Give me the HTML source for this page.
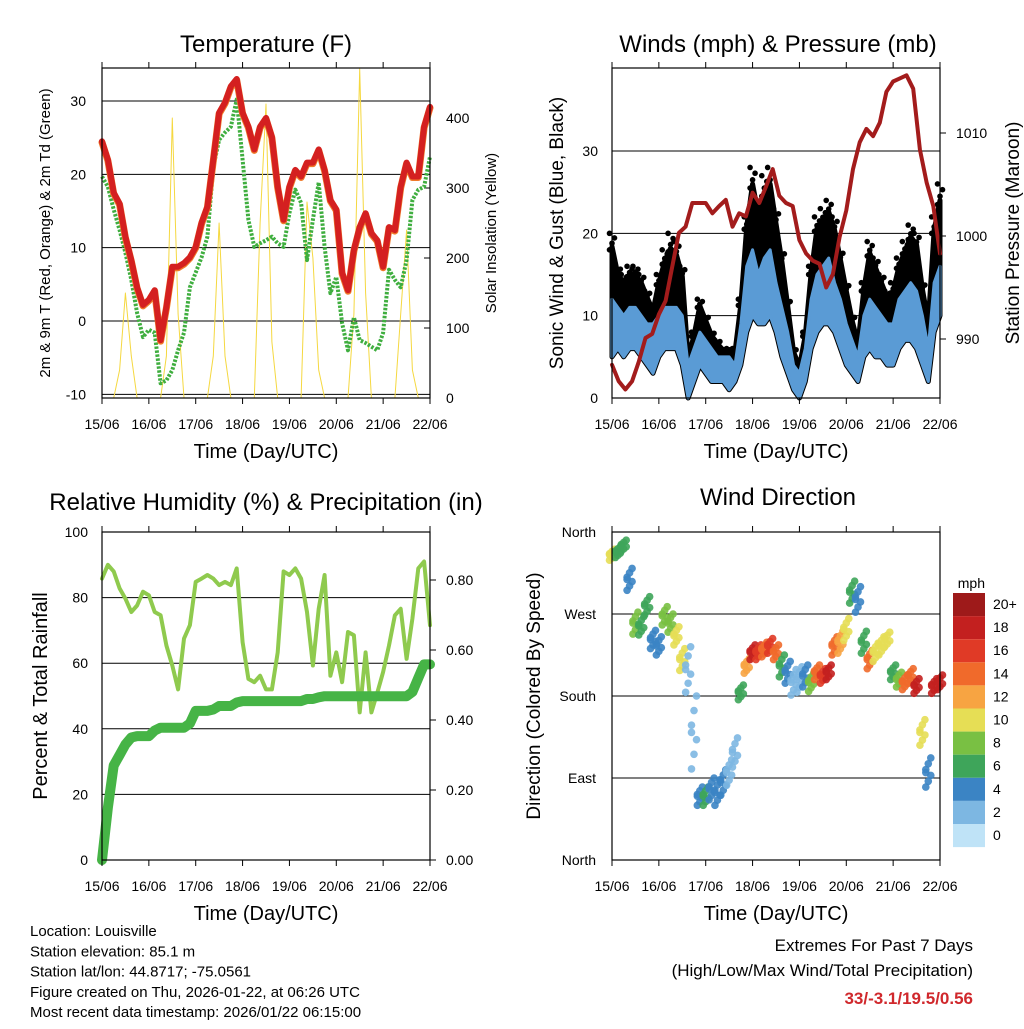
<!DOCTYPE html>
<html><head><meta charset="utf-8"><style>
body{margin:0;background:#fff;width:1024px;height:1024px;overflow:hidden;font-family:"Liberation Sans",sans-serif}
svg text{font-family:"Liberation Sans",sans-serif}
</style></head><body>
<svg id="c" width="1024" height="1024" xmlns="http://www.w3.org/2000/svg"></svg>
<script>
const days=["15/06","16/06","17/06","18/06","19/06","20/06","21/06","22/06"];
const tempRed=[24.5,22,17.5,16,11.5,8.3,4.6,2.2,2.9,4.2,-2.6,1.9,7.4,7.4,7.9,8.7,10.1,13.4,15.6,22,28.4,29.8,32,33,28.4,26.5,23.4,26.5,27.7,25.1,18.3,13.8,18.3,20.6,19.7,21.6,21.6,23.4,20.6,16.5,15.2,6.6,4.2,9.7,12.8,14.7,12,11,7.4,12.8,12.4,18.3,21.6,19.7,19.7,26.5,29.2];
const dewGreen=[19.7,18.3,15.2,12.4,9.3,5.6,1.1,-2.2,-1.2,-1.6,-8.5,-8.1,-6.7,-4,-1.6,4.6,6.6,8.7,11.5,21,24.7,25.7,26.5,30.2,22,13.8,10.1,10.6,11,11.5,10.6,10.1,14.7,17.9,16.1,8.3,13.8,18.9,10.1,3.8,6,-0.3,-4,0.5,-2.6,-3,-3.5,-4,-1.6,7,5.6,4.6,8.3,16.5,17.9,18.3,22.4];
const solar=[0,0,0,40,150,60,0,0,0,0,0,60,400,120,0,0,0,0,0,60,250,60,0,0,0,0,0,250,420,80,0,0,0,0,0,280,200,40,0,0,0,0,0,120,470,150,0,0,0,0,0,120,240,40,0,0,0];
const windLo=[5,6,5,6,6,5,4,3,5,6,6,6,4,0,2,4,3,2,2,2,1,2,4,8,10,9,9,10,8,5,3,1,0,2,6,8,9,9,8,6,4,3,2,5,6,5,5,4,4,6,7,7,6,4,2,8,10];
const windHi=[12,11,10,11,11,10,9,9,10,11,11,11,10,4,6,8,7,6,5,5,5,4,9,16,18,15,17,18,14,11,8,4,3,6,12,15,16,17,14,12,9,7,5,10,12,11,10,9,9,12,13,14,13,10,6,14,16];
const gust=[20,16,15,16,16,15,13,11,15,18,20,19,16,5,8,12,10,8,7,6,6,6,12,22,28,24,27,28,23,18,12,6,4,8,16,22,23,24,22,18,14,10,7,14,19,17,15,13,14,17,19,21,20,14,10,22,26];
const pressure=[987.5,985.9,985.1,985.9,987.8,990.1,990.5,992.4,993.7,997.0,1000.3,1000.9,1003.2,1003.2,1003.2,1002.2,1002.9,1003.5,1000.9,1002.2,1001.9,1004.2,1003.2,1004.8,1006.5,1003.9,1003.2,1002.9,999.6,998.3,997.6,997.3,995.0,996.3,999.9,1002.5,1006.5,1009.1,1010.4,1009.7,1011.0,1014.0,1015.0,1015.3,1015.6,1014.3,1008.4,1005.2,1002.9,998.3];
const rh=[85.8,90,88,82.8,79.7,75.6,77.6,81.8,80.7,75.6,74.6,65.4,59.3,52,67.5,71.6,84.8,85.8,86.9,85.8,83.8,84.8,83.8,88.9,66.4,55.2,54.2,56.2,52,52,63.3,88,86.9,88.9,85.8,75.6,59.3,76.6,86.9,56.2,63.3,54.2,69.5,68.5,45,63.3,45,51,57.3,65.4,74.6,76.6,61.3,73.6,88.9,91,71.6];
const precip=[0,0.15,0.27,0.30,0.33,0.35,0.354,0.354,0.354,0.37,0.378,0.378,0.378,0.378,0.378,0.39,0.426,0.426,0.426,0.43,0.44,0.44,0.44,0.45,0.454,0.454,0.454,0.454,0.454,0.454,0.454,0.454,0.454,0.454,0.454,0.46,0.46,0.465,0.468,0.468,0.468,0.468,0.468,0.468,0.468,0.468,0.468,0.468,0.468,0.468,0.468,0.468,0.468,0.48,0.52,0.559,0.559];
const windDir=[335,338,345,308,260,257,279,242,235,268,260,246,220,209,140,70,70,78,74,85,96,118,184,213,228,228,231,235,228,213,206,195,198,202,195,206,202,206,235,239,253,294,286,239,220,228,235,242,206,198,195,202,191,140,96,191,195];
const dirSpread=[6,6,6,12,12,10,10,10,10,10,10,10,12,25,40,10,10,12,14,14,14,16,8,8,8,8,8,8,8,12,12,14,14,12,10,8,8,8,10,12,12,12,14,12,10,10,10,8,8,8,8,8,8,14,16,8,8];
const dirSpeed=[10,7,6,5,9,7,6,4,4,8,9,10,11,3,2,5,7,4,4,4,3,2,7,12,18,16,14,16,14,6,4,2,2,4,8,14,16,18,14,12,10,6,4,6,14,10,11,10,7,8,14,15,18,10,4,18,18];
const tempTicks=[-10,0,10,20,30];
const solarTicks=[0,100,200,300,400];
const windTicks=[0,10,20,30];
const presTicks=[990,1000,1010];
const rhTicks=[0,20,40,60,80,100];
const precipTicks=["0.00","0.20","0.40","0.60","0.80"];
const dirLabels=["North","East","South","West","North"];
const cbLabels=["20+","18","16","14","12","10","8","6","4","2","0"];
const cbColors=["#9e1a1a","#c3201f","#e03a26","#f06a2b","#f7a442","#e6de55","#79c043","#3ea55a","#3b84c4","#7db7e2","#bfe3f7"];

const S=document.getElementById('c');const NS="http://www.w3.org/2000/svg";
function mk(tag,at,par){const e=document.createElementNS(NS,tag);for(const k in at)e.setAttribute(k,at[k]);(par||S).appendChild(e);return e;}
function txt(x,y,s,size,anchor,extra){const e=mk('text',Object.assign({x:x,y:y,'font-size':size,'text-anchor':anchor||'middle',fill:'#000'},extra||{}));e.textContent=s;return e;}
function xScale(L,R,n){return i=>L+(R-L)*i/(n-1);}
function lin(v0,y0,v1,y1){return v=>y0+(v-v0)*(y1-y0)/(v1-v0);}

function frame(L,T,R,B,name){
  const r=mk('rect',{x:L,y:T,width:R-L,height:B-T,fill:'none',stroke:'#000','stroke-width':1.2});
  
  for(let d=0;d<8;d++){const x=L+(R-L)*d/7;
    const t1=mk('line',{x1:x,x2:x,y1:B,y2:B+6,stroke:'#000'});
    const t2=mk('line',{x1:x,x2:x,y1:T,y2:T-6,stroke:'#000'});
    const l=txt(x,B+31,days[d],14);}
  const xt=txt((L+R)/2,B+60,'Time (Day/UTC)',20);
}
function grid(L,R,y,name){const g=mk('line',{x1:L,x2:R,y1:y,y2:y,stroke:'#000','stroke-width':1});}
function poly(pts,stroke,w,name,extra){const p=mk('polyline',Object.assign({points:pts.map(p=>p[0].toFixed(1)+','+p[1].toFixed(1)).join(' '),fill:'none',stroke:stroke,'stroke-width':w,'stroke-linejoin':'round','stroke-linecap':'round'},extra||{}));return p;}

// ---- Panel 1: Temperature
{const L=102,R=430,T=68,B=398;
 const t1=txt(266,52,'Temperature (F)',24);
 const y=lin(0,321,30,101),ys=lin(0,398,400,118);
 tempTicks.forEach(v=>{if(v>-10)grid(L,R,y(v),'temp-gridline');const l=txt(L-16,y(v)+5,String(v),14,'end');});
 grid(L,R,y(-10),'temp-gridline');
 solarTicks.forEach(v=>{const l=txt(R+16,ys(v)+5,String(v),14,'start');
   const tk=mk('line',{x1:R-6,x2:R,y1:ys(v),y2:ys(v),stroke:'#000'});});
 const xs=xScale(L,R,solar.length);
 poly(solar.map((v,i)=>[xs(i),ys(v)]),'#f5d840',1,'solar-line');
 const xt=xScale(L,R,tempRed.length);
 poly(dewGreen.map((v,i)=>[xt(i),y(v)]),'#3fae3f',4,'dewpoint-line',{'stroke-dasharray':'2.5,1.5','stroke-linecap':'butt'});
 poly(tempRed.map((v,i)=>[xt(i),y(v)+1]),'#f07a2a',7,'temp-9m-line');
 poly(tempRed.map((v,i)=>[xt(i),y(v)]),'#d42020',6,'temp-2m-line');
 frame(L,T,R,B,'temperature');
 const a=txt(0,0,'2m & 9m T (Red, Orange) & 2m Td (Green)',15,'middle',{transform:'translate(50,233) rotate(-90)'});
 const b=txt(0,0,'Solar Insolation (Yellow)',15,'middle',{transform:'translate(496,233) rotate(-90)'});
}
// ---- Panel 2: Winds
{const L=612,R=940,T=68,B=398;
 const t1=txt(778,52,'Winds (mph) & Pressure (mb)',24);
 const y=lin(0,398,30,151),yp=lin(1000,236,1010,133);
 windTicks.forEach(v=>{if(v>0)grid(L,R,y(v),'wind-gridline');const l=txt(L-14,y(v)+5,String(v),14,'end');});
 presTicks.forEach(v=>{const l=txt(R+16,yp(v)+5,String(v),14,'start');
   const tk=mk('line',{x1:R,x2:R+6,y1:yp(v),y2:yp(v),stroke:'#000'});});
 const xw=xScale(L,R,gust.length);
 const blackPts=gust.map((v,i)=>[xw(i),y(windHi[i]+(v-windHi[i])*0.8)]).concat(windLo.map((v,i)=>[xw(i),y(v)]).reverse());
 const bp=mk('polygon',{points:blackPts.map(p=>p.join(',')).join(' '),fill:'#000',stroke:'#000','stroke-width':5,'stroke-linejoin':'round'});
 const fr=[0.75,0.85,0.93,1];
 gust.forEach((v,i)=>{const lo=windHi[i];
   fr.forEach((f,j)=>{const val=lo+(v-lo)*f;const c=mk('circle',{cx:xw(i)+((j%3)-1)*2.5,cy:y(val),r:2.8,fill:'#000'});});});
 const bluePts=windHi.map((v,i)=>[xw(i),y(v)]).concat(windLo.map((v,i)=>[xw(i),y(v)]).reverse());
 const blp=mk('polygon',{points:bluePts.map(p=>p.join(',')).join(' '),fill:'#5a9bd5',stroke:'#5a9bd5','stroke-width':3,'stroke-linejoin':'round'});
 const xp=xScale(L,R,pressure.length);
 poly(pressure.map((v,i)=>[xp(i),yp(v)]),'#a31c1c',4,'pressure-line');
 frame(L,T,R,B,'winds');
 const a=txt(0,0,'Sonic Wind & Gust (Blue, Black)',19,'middle',{transform:'translate(563,233) rotate(-90)'});
 const b=txt(0,0,'Station Pressure (Maroon)',19,'middle',{transform:'translate(1019,233) rotate(-90)'});
}
// ---- Panel 3: RH & Precip
{const L=102,R=430,T=532,B=860;
 const t1=txt(266,510,'Relative Humidity (%) & Precipitation (in)',24);
 const y=lin(0,860,100,532),yp=lin(0,860,0.8,580);
 rhTicks.forEach(v=>{if(v>0&&v<100)grid(L,R,y(v),'rh-gridline');const l=txt(L-14,y(v)+5,String(v),14,'end');});
 precipTicks.forEach(s=>{const v=parseFloat(s);const l=txt(R+16,yp(v)+5,s,14,'start');
   const tk=mk('line',{x1:R,x2:R+6,y1:yp(v),y2:yp(v),stroke:'#000'});});
 const xr=xScale(L,R,rh.length);
 poly(rh.map((v,i)=>[xr(i),y(v)]),'#8fca4e',4,'rh-line');
 const xq=xScale(L,R,precip.length);
 poly(precip.map((v,i)=>[xq(i),yp(v)]),'#46b446',10,'precip-line');
 frame(L,T,R,B,'humidity');
 const a=txt(0,0,'Percent & Total Rainfall',20,'middle',{transform:'translate(47,696) rotate(-90)'});
}
// ---- Panel 4: Wind direction
{const L=612,R=940,T=532,B=860;
 const t1=txt(778,505,'Wind Direction',24);
 const y=lin(0,860,360,532);
 dirLabels.forEach((s,i)=>{const v=i*90;if(i>0&&i<4)grid(L,R,y(v),'direction-gridline');const l=txt(L-16,y(v)+5,s,14,'end');});
 const xd=xScale(L,R,windDir.length);
 const offs=[-1,-0.6,-0.2,0.2,0.6,1,0];
 windDir.forEach((v,i)=>{const col=cbColors[10-Math.min(10,Math.floor(dirSpeed[i]/2))];
   offs.forEach((o,j)=>{const c=mk('circle',{cx:xd(i)+((j%3)-1)*2.5,cy:y(v+o*dirSpread[i]),r:3.8,fill:col,'fill-opacity':0.9});
     });});
 frame(L,T,R,B,'wind-direction');
 const a=txt(0,0,'Direction (Colored By Speed)',19,'middle',{transform:'translate(540,696) rotate(-90)'});
 const m=txt(985,588,'mph',14,'end');
 cbColors.forEach((c,i)=>{const r=mk('rect',{x:953,y:593+i*23.1,width:32,height:23.1,fill:c});
   const l=txt(993,593+i*23.1+16,cbLabels[i],14,'start');});
}
// ---- Footer text
["Location: Louisville","Station elevation: 85.1 m","Station lat/lon: 44.8717; -75.0561","Figure created on Thu, 2026-01-22, at 06:26 UTC","Most recent data timestamp: 2026/01/22 06:15:00"].forEach((s,i)=>{
 const l=txt(30,936+i*20.3,s,15,'start');});
const e1=txt(973,951,'Extremes For Past 7 Days',17,'end');
const e2=txt(973,976,'(High/Low/Max Wind/Total Precipitation)',17,'end');
const e3=txt(973,1004,'33/-3.1/19.5/0.56',17,'end',{fill:'#d0282c','font-weight':'bold'});
</script>
</body></html>
